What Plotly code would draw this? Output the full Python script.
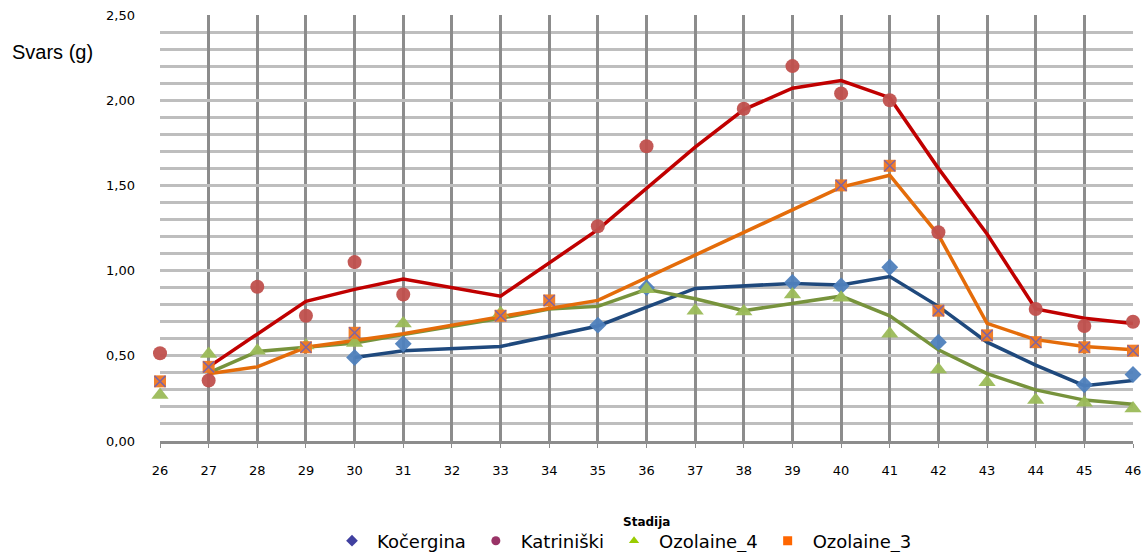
import plotly.graph_objects as go

stadija = list(range(26, 47))  # 26..46

N = None
# Marker series (measured points)
kocergina = [N, N, N, N, 0.49, 0.57, N, N, N, 0.68, 0.90, N, N, 0.93, 0.91, 1.02, 0.58, N, N, 0.33, 0.39]
katriniski = [0.515, 0.355, 0.905, 0.735, 1.05, 0.86, N, N, N, 1.26, 1.73, N, 1.95, 2.20, 2.04, 2.00, 1.225, N, 0.775, 0.675, 0.70]
ozolaine_4 = [0.27, 0.51, 0.53, 0.56, 0.575, 0.69, N, 0.75, N, N, 0.89, 0.765, 0.76, 0.86, 0.84, 0.63, 0.42, 0.345, 0.24, 0.225, 0.19]
ozolaine_3 = [0.35, 0.435, N, 0.55, 0.635, N, N, 0.735, 0.825, N, N, N, N, N, 1.50, 1.615, 0.765, 0.62, 0.58, 0.55, 0.53]

# Line series (smoothed curves)
kocergina_line = [N, N, N, N, 0.49, 0.53, N, 0.555, N, 0.675, N, 0.895, 0.91, 0.925, 0.915, 0.965, 0.79, 0.58, 0.445, 0.325, 0.355]
katriniski_line = [N, 0.435, N, 0.82, 0.89, 0.95, N, 0.85, N, 1.24, N, 1.725, 1.945, 2.07, 2.115, 2.015, 1.60, 1.215, 0.775, 0.72, 0.69]
ozolaine_4_line = [N, 0.40, 0.525, 0.55, 0.575, 0.625, N, 0.72, 0.775, 0.79, 0.89, 0.835, 0.765, 0.81, 0.85, 0.735, 0.535, 0.395, 0.30, 0.24, 0.215]
ozolaine_3_line = [N, 0.395, 0.435, 0.55, 0.59, 0.63, N, 0.73, 0.78, 0.825, N, N, N, N, 1.49, 1.56, 1.21, 0.69, 0.595, 0.555, 0.535]

names = ["Kočergina", "Katriniški", "Ozolaine_4", "Ozolaine_3"]

font = "DejaVu Sans, sans-serif"

fig = go.Figure()

line_specs = [
    (kocergina_line, "#1F497D"),
    (katriniski_line, "#C00000"),
    (ozolaine_4_line, "#77933C"),
    (ozolaine_3_line, "#E46C0A"),
]
for vals, col in line_specs:
    fig.add_trace(go.Scatter(x=stadija, y=vals, mode="lines", connectgaps=True,
                             line=dict(color=col, width=3.5), showlegend=False, hoverinfo="skip"))

marker_specs = [
    (kocergina, "diamond", "#4F81BD", 13),
    (katriniski, "circle", "#C0504D", 14),
    (ozolaine_4, "triangle-up", "#9BBB59", 15),
    (ozolaine_3, "square", "#F07820", 12),
]
for vals, sym, col, sz in marker_specs:
    fig.add_trace(go.Scatter(x=stadija, y=vals, mode="markers", cliponaxis=False,
                             marker=dict(symbol=sym, color=col, size=sz, opacity=0.95),
                             showlegend=False))

# cross markers overlaying Ozolaine_3 squares
fig.add_trace(go.Scatter(x=stadija, y=ozolaine_3, mode="markers", cliponaxis=False,
                         marker=dict(symbol="x-thin", size=11, line=dict(color="#8064A2", width=1.5)),
                         showlegend=False, hoverinfo="skip"))

# legend entries
legend_specs = [
    ("diamond", "#4040A0"),
    ("circle", "#993366"),
    ("triangle-up", "#99CC00"),
    ("square", "#FF6600"),
]
for nm, (sym, col) in zip(names, legend_specs):
    fig.add_trace(go.Scatter(x=[None], y=[None], mode="markers", name=nm,
                             marker=dict(symbol=sym, color=col, size=9)))

PH = 426.0  # plot height in px
PW = 973.0  # plot width in px

fig.update_layout(
    width=1146, height=552,
    margin=dict(l=160, r=13, t=15, b=111, autoexpand=False),
    paper_bgcolor="white", plot_bgcolor="white",
    separators=", ",
    font=dict(family=font, size=13, color="#000000"),
    showlegend=True,
    legend=dict(orientation="h", x=(622 - 160) / PW, xanchor="center",
                y=(441 - 541) / PH, yanchor="middle",
                font=dict(family=font, size=18), itemwidth=40, tracegroupgap=0),
    annotations=[
        dict(text="Svars (g)", x=-(160 - 10) / PW, y=(441 - 52) / PH,
             xref="paper", yref="paper", showarrow=False,
             font=dict(family="Liberation Sans, Arial", size=20),
             xanchor="left", yanchor="middle"),
        dict(text="<b>Stadija</b>", x=(646 - 160) / PW, y=(441 - 522) / PH,
             xref="paper", yref="paper", showarrow=False,
             font=dict(family=font, size=12), xanchor="center", yanchor="middle"),
    ],
)

fig.update_xaxes(
    range=[26, 46], tickmode="linear", tick0=26, dtick=1,
    showgrid=True, gridcolor="#8C8C8C", gridwidth=2.5,
    showline=True, linecolor="#8C8C8C", linewidth=2.5,
    ticks="outside", ticklen=4, tickcolor="#8C8C8C",
    tickfont=dict(family=font, size=13),
    ticklabelstandoff=12,
    zeroline=False, automargin=False,
)
fig.update_yaxes(
    range=[0, 2.5], tickmode="linear", tick0=0, dtick=0.5, tickformat=".2f",
    showgrid=True, gridcolor="#BEBEBE", gridwidth=2.5,
    minor=dict(dtick=0.1, showgrid=True, gridcolor="#BEBEBE", gridwidth=2.5),
    zeroline=False, showline=False,
    ticks="", ticklabelstandoff=24,
    tickfont=dict(family=font, size=13),
    automargin=False,
)

fig.write_html("out.html", config={"displayModeBar": False},
               post_script="document.body.style.margin='0';document.body.style.overflow='hidden';")
